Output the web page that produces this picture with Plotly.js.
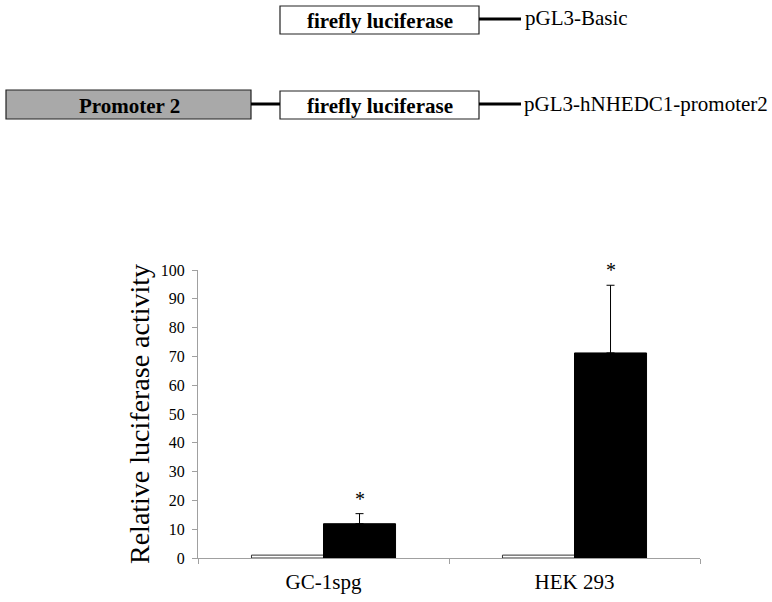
<!DOCTYPE html>
<html>
<head>
<meta charset="utf-8">
<script src="https://cdn.plot.ly/plotly-3.0.1.min.js"></script>
<style>
  html, body { margin: 0; padding: 0; background: #fff; }
  #grafico { width: 772px; height: 602px; }
</style>
</head>
<body>
<div id="grafico"></div>
<script>
// Datos
const categorias = ['GC-1spg', 'HEK 293'];
const valoresBasic = [1, 1];
const valoresPromotor = [11.9, 71.2];
const erroresPromotor = [3.5, 23.5];
const marcas = ['*', '*'];

// Esquema de construcciones (etiquetas)
const textoPromotor = 'Promoter 2';
const textoLuciferasa = 'firefly luciferase';
const nombresConstruccion = ['pGL3-Basic', 'pGL3-hNHEDC1-promoter2'];
const tituloY = 'Relative luciferase activity';

const fuente = 'Liberation Serif, Times New Roman, serif';

// Márgenes del área de trazado en píxeles
const M = { l: 198, r: 72, t: 270, b: 44 };
const W = 772, H = 602;
const anchoPlot = W - M.l - M.r;
const altoPlot = H - M.t - M.b;
const px = (x) => (x - M.l) / anchoPlot;
const py = (y) => (H - M.b - y) / altoPlot;

// Trazas de barras
const trazaBasic = {
    x: categorias,
    y: valoresBasic,
    type: 'bar',
    name: nombresConstruccion[0],
    marker: { color: '#ffffff', line: { color: '#333333', width: 1 } },
    hoverinfo: 'y'
};

const trazaPromotor = {
    x: categorias,
    y: valoresPromotor,
    type: 'bar',
    name: nombresConstruccion[1],
    marker: { color: '#000000', line: { color: '#000000', width: 1 } },
    error_y: {
        type: 'data',
        symmetric: false,
        array: erroresPromotor,
        arrayminus: [0, 0],
        color: '#000000',
        thickness: 1,
        width: 4
    },
    hoverinfo: 'y'
};

// Asteriscos sobre las barras de error
const anotaciones = categorias.map((c, i) => ({
    x: c,
    y: valoresPromotor[i] + erroresPromotor[i],
    xref: 'x',
    yref: 'y',
    xshift: 36,
    yshift: 2,
    yanchor: 'bottom',
    text: marcas[i],
    showarrow: false,
    font: { family: fuente, size: 20, color: '#000' }
}));

// Título del eje Y como anotación (para colocarlo donde está en la figura)
anotaciones.push({
    xref: 'paper', yref: 'paper',
    x: px(139), y: 0.5,
    xanchor: 'center', yanchor: 'middle',
    textangle: -90,
    text: tituloY,
    showarrow: false,
    font: { family: fuente, size: 28, color: '#000' }
});

// Cajas y líneas del esquema
const cajas = [
    { x0: 280, x1: 479, y0: 6, y1: 34, fill: '#ffffff' },
    { x0: 6, x1: 251, y0: 90, y1: 119, fill: '#a9a9a9' },
    { x0: 280, x1: 479, y0: 91, y1: 119, fill: '#ffffff' }
];
const lineas = [
    { x0: 479, x1: 521, y: 19 },
    { x0: 251, x1: 280, y: 104 },
    { x0: 479, x1: 521, y: 104 }
];

const formas = [];
cajas.forEach((b) => formas.push({
    type: 'rect', xref: 'paper', yref: 'paper',
    x0: px(b.x0), x1: px(b.x1), y0: py(b.y1), y1: py(b.y0),
    fillcolor: b.fill,
    line: { color: '#222222', width: 1.2 }
}));
lineas.forEach((l) => formas.push({
    type: 'line', xref: 'paper', yref: 'paper',
    x0: px(l.x0), x1: px(l.x1), y0: py(l.y), y1: py(l.y),
    line: { color: '#000000', width: 3 }
}));

const textosEsquema = [
    { x: 380, y: 21, t: '<b>' + textoLuciferasa + '</b>', anchor: 'center', size: 21 },
    { x: 129, y: 106, t: '<b>' + textoPromotor + '</b>', anchor: 'center', size: 21 },
    { x: 380, y: 106, t: '<b>' + textoLuciferasa + '</b>', anchor: 'center', size: 21 },
    { x: 523, y: 18, t: nombresConstruccion[0], anchor: 'left', size: 21 },
    { x: 522, y: 104, t: nombresConstruccion[1], anchor: 'left', size: 21 }
];
textosEsquema.forEach((s) => anotaciones.push({
    xref: 'paper', yref: 'paper',
    x: px(s.x), y: py(s.y),
    xanchor: s.anchor, yanchor: 'middle',
    text: s.t, showarrow: false,
    font: { family: fuente, size: s.size, color: '#000' }
}));

const layout = {
    width: W,
    height: H,
    margin: M,
    paper_bgcolor: '#ffffff',
    plot_bgcolor: '#ffffff',
    showlegend: false,
    barmode: 'group',
    bargap: 0.426,
    bargroupgap: 0,
    font: { family: fuente, color: '#000' },
    xaxis: {
        type: 'category',
        showline: true,
        linecolor: '#a0a0a0',
        linewidth: 1,
        ticks: 'outside',
        tickson: 'boundaries',
        ticklen: 5,
        tickcolor: '#a0a0a0',
        ticklabelstandoff: 5,
        showgrid: false,
        zeroline: false,
        tickfont: { family: fuente, size: 21, color: '#000' }
    },
    yaxis: {
        range: [0, 100],
        dtick: 10,
        showline: true,
        linecolor: '#a0a0a0',
        linewidth: 1,
        ticks: 'outside',
        ticklen: 5,
        tickcolor: '#a0a0a0',
        ticksuffix: '\u00a0',
        showgrid: false,
        zeroline: false,
        tickfont: { family: fuente, size: 16, color: '#000' }
    },
    shapes: formas,
    annotations: anotaciones
};

Plotly.newPlot('grafico', [trazaBasic, trazaPromotor], layout, { displayModeBar: false, staticPlot: true });
</script>
</body>
</html>
